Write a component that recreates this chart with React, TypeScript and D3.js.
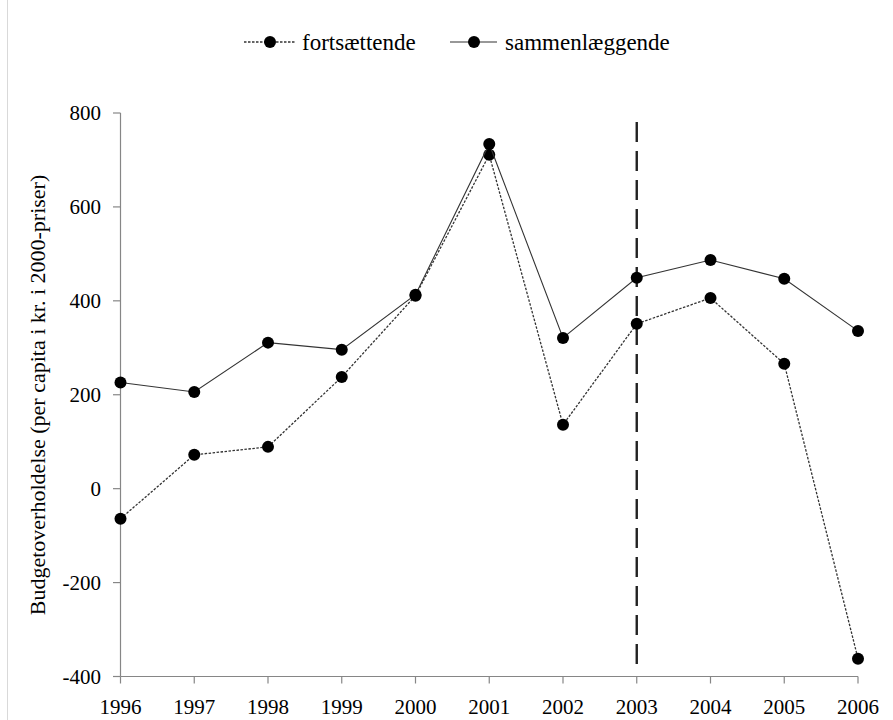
import React from "react";
import * as d3 from "d3";

const years = [1996, 1997, 1998, 1999, 2000, 2001, 2002, 2003, 2004, 2005, 2006];
const fortsaettende = [-64, 72, 89, 238, 411, 711, 136, 351, 406, 266, -362];
const sammenlaeggende = [226, 206, 311, 296, 413, 734, 321, 449, 487, 447, 336];
const yTicks = [-400, -200, 0, 200, 400, 600, 800];
const markerYear = 2003;
const seriesNames = ["fortsættende", "sammenlæggende"];
const yTitle = "Budgetoverholdelse (per capita i kr. i 2000-priser)";

const W = 893;
const H = 720;
const font = "'Liberation Serif', 'Times New Roman', serif";

export default function App() {
  const x = d3.scaleLinear().domain([1996, 2006]).range([120.5, 858]);
  const y = d3.scaleLinear().domain([-400, 800]).range([676.5, 113]);
  const line = d3
    .line<number>()
    .x((_, i) => x(years[i]))
    .y((d) => y(d));

  const series = [
    { name: seriesNames[0], values: fortsaettende, dash: "2.5,1.5", width: 1.3 },
    { name: seriesNames[1], values: sammenlaeggende, dash: undefined, width: 1.1 },
  ];

  return (
    <svg
      width={W}
      height={H}
      style={{ position: "absolute", left: 0, top: 0, background: "#fff" }}
      fontFamily={font}
    >
      <rect x={0} y={0} width={W} height={H} fill="#fff" />
      <line x1={7.5} x2={7.5} y1={0} y2={H} stroke="#d9d9d9" strokeWidth={1} />

      {/* Y axis */}
      <line x1={x(1996)} x2={x(1996)} y1={y(800)} y2={y(-400)} stroke="#868686" strokeWidth={1.2} />
      {yTicks.map((t) => (
        <g key={t}>
          <line x1={113} x2={x(1996)} y1={y(t)} y2={y(t)} stroke="#868686" strokeWidth={1.2} />
          <text x={101} y={y(t)} dy="0.34em" textAnchor="end" fontSize={21} fill="#000">
            {t}
          </text>
        </g>
      ))}

      {/* X axis */}
      <line x1={x(1996)} x2={x(2006)} y1={y(-400)} y2={y(-400)} stroke="#868686" strokeWidth={1.2} />
      {years.map((yr) => (
        <g key={yr}>
          <line x1={x(yr)} x2={x(yr)} y1={y(-400)} y2={683.5} stroke="#868686" strokeWidth={1.2} />
          <text x={x(yr)} y={714} textAnchor="middle" fontSize={21} fill="#000">
            {yr}
          </text>
        </g>
      ))}

      {/* Y title */}
      <text
        transform={`translate(45, ${395}) rotate(-90)`}
        textAnchor="middle"
        fontSize={22}
        fill="#000"
      >
        {yTitle}
      </text>

      {/* Vertical dashed line */}
      <line
        x1={x(markerYear)}
        x2={x(markerYear)}
        y1={122}
        y2={y(-400) - 6}
        stroke="#222"
        strokeWidth={2.4}
        strokeDasharray="20,9"
      />

      {/* Series */}
      {series.map((s) => (
        <g key={s.name}>
          <path
            d={line(s.values) || ""}
            fill="none"
            stroke="#333"
            strokeWidth={s.width}
            strokeDasharray={s.dash}
          />
          {s.values.map((v, i) => (
            <circle key={i} cx={x(years[i])} cy={y(v)} r={6} fill="#000" />
          ))}
        </g>
      ))}

      {/* Legend */}
      <g>
        <line x1={244} x2={296} y1={42} y2={42} stroke="#333" strokeWidth={1.3} strokeDasharray="2.5,1.5" />
        <circle cx={270} cy={42} r={6} fill="#000" />
        <text x={302} y={42} dy="0.33em" fontSize={23} fill="#000">
          {seriesNames[0]}
        </text>
        <line x1={450} x2={497} y1={42} y2={42} stroke="#333" strokeWidth={1.1} />
        <circle cx={474} cy={42} r={6} fill="#000" />
        <text x={505} y={42} dy="0.33em" fontSize={23} fill="#000">
          {seriesNames[1]}
        </text>
      </g>
    </svg>
  );
}
